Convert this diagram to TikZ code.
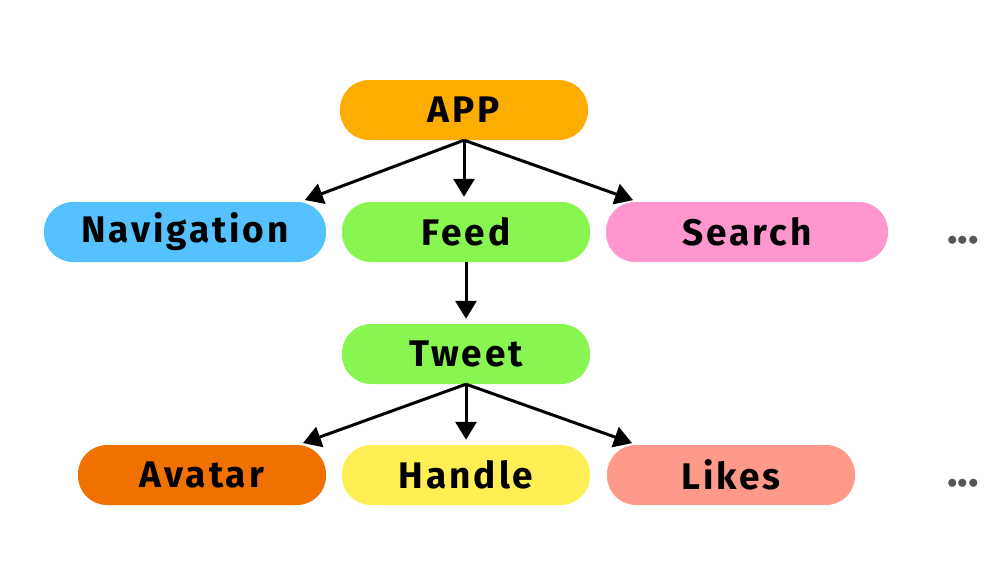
\documentclass[tikz,border=0pt]{standalone}
\usepackage{fontspec}
\setmainfont[LetterSpace=8]{Fira Sans}
\usetikzlibrary{arrows.meta}
\definecolor{appcol}{HTML}{FDAD00}
\definecolor{navcol}{HTML}{55C1FF}
\definecolor{feedcol}{HTML}{88F551}
\definecolor{searchcol}{HTML}{FF96CE}
\definecolor{avatarcol}{HTML}{F07000}
\definecolor{handlecol}{HTML}{FFEF55}
\definecolor{likescol}{HTML}{FF9A8A}
\definecolor{dotcol}{HTML}{555555}
\begin{document}
\begin{tikzpicture}[x=1pt, y=-1pt,
  comp/.style={rounded corners=29pt, minimum height=60pt, inner sep=0pt,
    font=\fontsize{37}{44}\selectfont\bfseries, text=black},
  short/.style={comp, minimum width=248pt},
  long/.style={comp, minimum width=282pt},
  more/.style={text=dotcol, font=\fontsize{44}{50}\selectfont\bfseries\addfontfeature{LetterSpace=0}},
  link/.style={line width=3pt, -{Triangle[width=21pt,length=18pt]}, shorten >=5pt}]
\useasboundingbox (0,0) rectangle (1001,584);
% top level
\node[short, fill=appcol] (app) at (464,110) {APP};
\node[long, fill=navcol] (nav) at (185,232) {Navigation};
\node[short, fill=feedcol] (feed) at (466,232) {Feed};
\node[long, fill=searchcol] (search) at (747,232) {Search};
\node[more] (dotsa) at (963,240) {...};
% tweet level
\node[short, fill=feedcol] (tweet) at (466,354) {Tweet};
\node[short, fill=avatarcol] (avatar) at (202,475) {Avatar};
\node[short, fill=handlecol] (handle) at (466,475) {Handle};
\node[short, fill=likescol] (likes) at (731,475) {Likes};
\node[more] (dotsb) at (963,483) {...};
% arrows
\draw[link] (app.south) -- ([xshift=-26pt]nav.north east);
\draw[link] (app.south) -- (app.south |- feed.north);
\draw[link] (app.south) -- ([xshift=32pt]search.north west);
\draw[link] (feed.south) -- (tweet.north);
\draw[link] (tweet.south) -- ([xshift=-28pt]avatar.north east);
\draw[link] (tweet.south) -- (handle.north);
\draw[link] (tweet.south) -- ([xshift=30pt]likes.north west);
\end{tikzpicture}
\end{document}
